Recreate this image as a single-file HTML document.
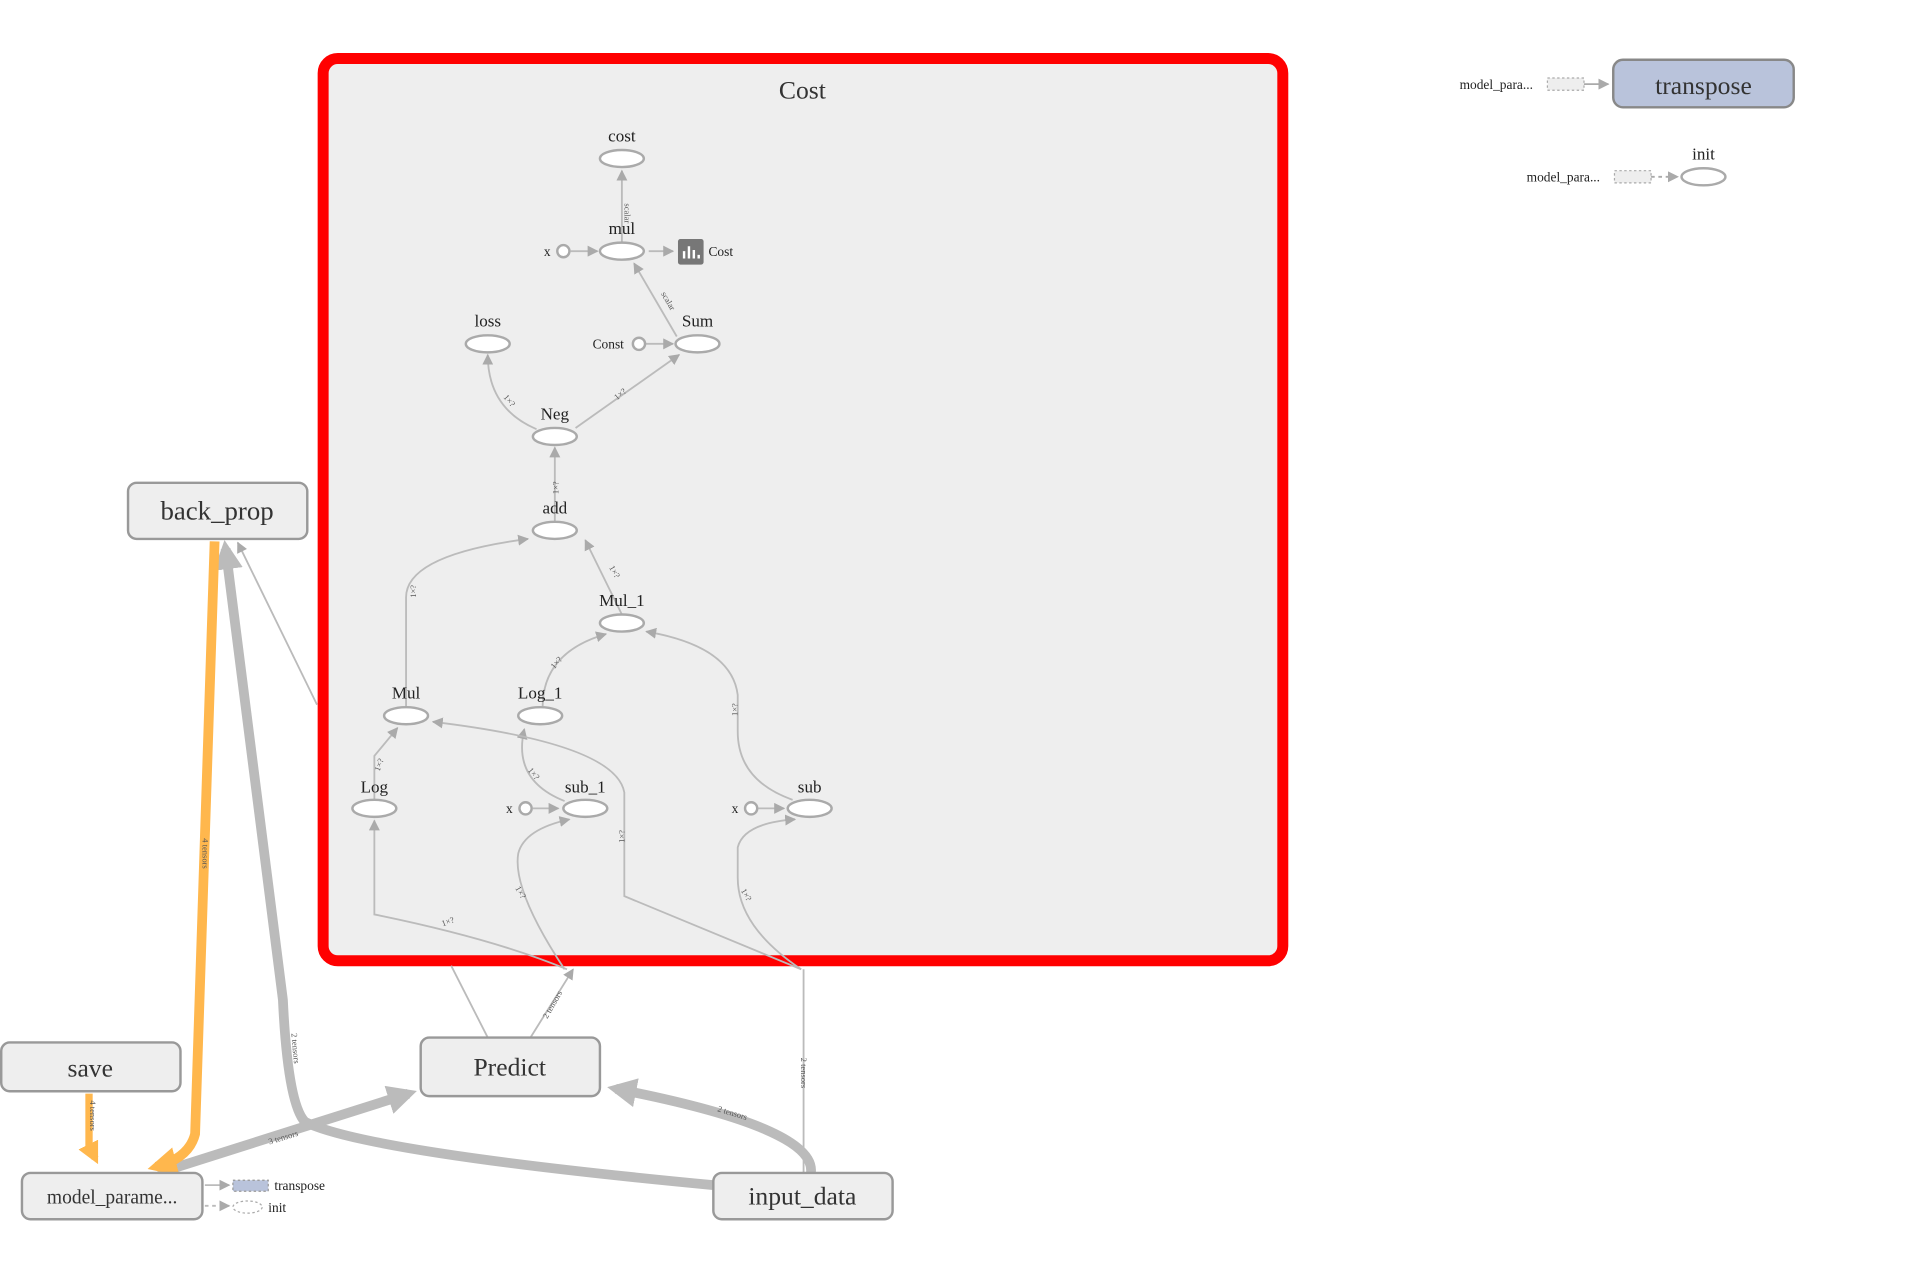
<!DOCTYPE html>
<html><head><style>html,body{margin:0;padding:0;background:#fff;}svg{display:block}</style></head>
<body>
<svg width="1912" height="1279" viewBox="0 0 1568 1049" preserveAspectRatio="none" xmlns="http://www.w3.org/2000/svg" font-family="Liberation Serif, serif">
<defs>
<marker id="a" viewBox="0 0 10 10" refX="9" refY="5" markerWidth="6" markerHeight="6" orient="auto"><path d="M0 0L10 5L0 10z" fill="#aaa"/></marker>
<marker id="ab" viewBox="0 0 10 10" refX="7" refY="5" markerWidth="3" markerHeight="3" orient="auto"><path d="M0 0L10 5L0 10z" fill="#bbb"/></marker>
<marker id="ao" viewBox="0 0 10 10" refX="7" refY="5" markerWidth="3" markerHeight="3" orient="auto"><path d="M0 0L10 5L0 10z" fill="#ffb74d"/></marker>
</defs>
<rect x="265" y="48" width="787" height="740" rx="12" fill="#eee" stroke="#f00" stroke-width="9"/>
<text x="658" y="81" font-size="21" text-anchor="middle" fill="#333">Cost</text>

<g fill="none" stroke="#bbb" stroke-width="1.5" marker-end="url(#a)">
<path d="M510 199V140"/>
<path d="M468 206H490"/>
<path d="M532 206H552"/>
<path d="M555 276L520 216"/>
<path d="M529 282H552"/>
<path d="M472 351L557 291"/>
<path d="M440 352Q400 335 400 291"/>
<path d="M455 428V367"/>
<path d="M333 580V490Q333 455 433 442"/>
<path d="M510 504L480 443"/>
<path d="M445 580Q445 535 497 520"/>
<path d="M650 656Q605 640 605 600V570Q600 530 530 518"/>
<path d="M307 656V620L326 597"/>
<path d="M463 657Q420 640 430 598"/>
<path d="M437 663H458"/>
<path d="M622 663H643"/>
<path d="M465 795Q405 770 307 750V673"/>
<path d="M463 795Q420 730 425 700Q430 680 467 672"/>
<path d="M657 795L512 735V650Q505 610 355 592"/>
<path d="M657 795Q605 760 605 720V695Q610 675 652 672"/>
</g>
<g font-size="7" fill="#555" text-anchor="middle">
<text x="512" y="175" transform="rotate(90 512 175)">scalar</text>
<text x="546" y="248" transform="rotate(60 546 248)">scalar</text>
<text x="510" y="325" transform="rotate(-40 510 325)">1×?</text>
<text x="416" y="330" transform="rotate(50 416 330)">1×?</text>
<text x="458" y="400" transform="rotate(-90 458 400)">1×?</text>
<text x="341" y="485" transform="rotate(-90 341 485)">1×?</text>
<text x="502" y="470" transform="rotate(60 502 470)">1×?</text>
<text x="458" y="545" transform="rotate(-50 458 545)">1×?</text>
<text x="605" y="582" transform="rotate(-90 605 582)">1×?</text>
<text x="313" y="628" transform="rotate(-70 313 628)">1×?</text>
<text x="436" y="636" transform="rotate(50 436 636)">1×?</text>
<text x="512" y="686" transform="rotate(-90 512 686)">1×?</text>
<text x="368" y="758" transform="rotate(-20 368 758)">1×?</text>
<text x="425" y="733" transform="rotate(60 425 733)">1×?</text>
<text x="610" y="735" transform="rotate(60 610 735)">1×?</text>
</g>
<g fill="#fff" stroke="#aaa" stroke-width="2">
<ellipse cx="510" cy="130" rx="18" ry="7"/>
<ellipse cx="510" cy="206" rx="18" ry="7"/>
<ellipse cx="400" cy="282" rx="18" ry="7"/>
<ellipse cx="572" cy="282" rx="18" ry="7"/>
<ellipse cx="455" cy="358" rx="18" ry="7"/>
<ellipse cx="455" cy="435" rx="18" ry="7"/>
<ellipse cx="510" cy="511" rx="18" ry="7"/>
<ellipse cx="333" cy="587" rx="18" ry="7"/>
<ellipse cx="443" cy="587" rx="18" ry="7"/>
<ellipse cx="307" cy="663" rx="18" ry="7"/>
<ellipse cx="480" cy="663" rx="18" ry="7"/>
<ellipse cx="664" cy="663" rx="18" ry="7"/>
<circle cx="462" cy="206" r="5"/><circle cx="524" cy="282" r="5"/>
<circle cx="431" cy="663" r="5"/><circle cx="616" cy="663" r="5"/>
<ellipse cx="1397" cy="145" rx="18" ry="7"/>
</g>
<rect x="556" y="196" width="21" height="21" rx="2" fill="#777"/>
<path d="M561 212v-6M565 212v-10M569 212v-7M573 212v-3" stroke="#fff" stroke-width="2"/>
<g font-size="14" fill="#222" text-anchor="middle">
<text x="510" y="116">cost</text><text x="510" y="192">mul</text><text x="400" y="268">loss</text>
<text x="572" y="268">Sum</text><text x="455" y="344">Neg</text><text x="455" y="421">add</text>
<text x="510" y="497">Mul_1</text><text x="333" y="573">Mul</text><text x="443" y="573">Log_1</text>
<text x="307" y="650">Log</text><text x="480" y="650">sub_1</text><text x="664" y="650">sub</text>
<text x="1397" y="131">init</text>
</g>
<g font-size="11" fill="#222">
<text x="446" y="210">x</text><text x="581" y="210">Cost</text><text x="486" y="286">Const</text>
<text x="415" y="667">x</text><text x="600" y="667">x</text>
<text x="1197" y="73">model_para...</text><text x="1252" y="149">model_para...</text>
<text x="225" y="976">transpose</text><text x="220" y="994">init</text>
</g>
<rect x="1269" y="64" width="30" height="10" fill="#eee" stroke="#aaa" stroke-dasharray="2 2"/>
<path d="M1299 69H1319" stroke="#aaa" stroke-width="1.5" marker-end="url(#a)"/>
<rect x="1324" y="140" width="30" height="10" fill="#eee" stroke="#aaa" stroke-dasharray="2 2"/>
<path d="M1354 145H1376" stroke="#aaa" stroke-width="1.5" stroke-dasharray="3 3" marker-end="url(#a)"/>

<g fill="none" stroke="#bbb" stroke-width="1.5">
<path d="M400 851L370 792"/>
<path d="M435 851L470 795" marker-end="url(#a)"/>
<path d="M659 962V795"/>
<path d="M260 578L195 445" marker-end="url(#a)"/>
<path d="M168 972H188" marker-end="url(#a)"/>
<path d="M168 989H188" stroke-dasharray="3 3" marker-end="url(#a)"/>
</g>
<rect x="191" y="968" width="29" height="9" fill="#b9c3db" stroke="#999" stroke-dasharray="2 2"/>
<ellipse cx="203" cy="990" rx="12" ry="5" fill="#fff" stroke="#aaa" stroke-dasharray="2 2"/>
<g fill="none">
<path d="M585 972Q300 945 250 920Q236 905 232 820L185 450" stroke="#bbb" stroke-width="8" marker-end="url(#ab)"/>
<path d="M130 962L335 897" stroke="#bbb" stroke-width="8" marker-end="url(#ab)"/>
<path d="M665 962Q670 925 505 893" stroke="#bbb" stroke-width="8" marker-end="url(#ab)"/>
<path d="M176 444L160 930Q155 950 128 957" stroke="#ffb74d" stroke-width="8" marker-end="url(#ao)"/>
<path d="M73 897V940L78 950" stroke="#ffb74d" stroke-width="6" marker-end="url(#ao)"/>
</g>
<g font-size="7" fill="#555" text-anchor="middle">
<text x="166" y="700" transform="rotate(90 166 700)">4 tensors</text>
<text x="240" y="860" transform="rotate(85 240 860)">2 tensors</text>
<text x="233" y="935" transform="rotate(-17 233 935)">3 tensors</text>
<text x="600" y="915" transform="rotate(17 600 915)">2 tensors</text>
<text x="657" y="880" transform="rotate(90 657 880)">2 tensors</text>
<text x="455" y="825" transform="rotate(-60 455 825)">2 tensors</text>
<text x="74" y="915" transform="rotate(90 74 915)">4 tensors</text>
</g>
<g stroke="#999" stroke-width="2" fill="#eee">
<rect x="105" y="396" width="147" height="46" rx="7"/>
<rect x="1" y="855" width="147" height="40" rx="7"/>
<rect x="345" y="851" width="147" height="48" rx="7"/>
<rect x="18" y="962" width="148" height="38" rx="7"/>
<rect x="585" y="962" width="147" height="38" rx="7"/>
<rect x="1323" y="49" width="148" height="39" rx="8" fill="#b9c3db" stroke="#888"/>
</g>
<g fill="#333" text-anchor="middle">
<text x="178" y="426" font-size="22">back_prop</text>
<text x="74" y="883" font-size="21">save</text>
<text x="418" y="882" font-size="21">Predict</text>
<text x="92" y="987" font-size="16">model_parame...</text>
<text x="658" y="988" font-size="21">input_data</text>
<text x="1397" y="77" font-size="21">transpose</text>
</g>
</svg>
</body></html>
